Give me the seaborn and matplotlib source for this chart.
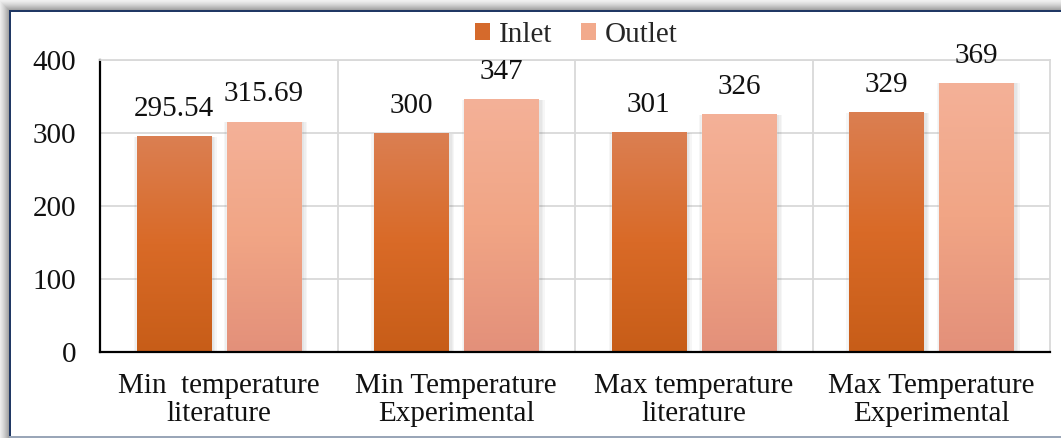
import numpy as np
import pandas as pd
import matplotlib
matplotlib.use("Agg")
import matplotlib.pyplot as plt
import matplotlib.patheffects as pe
from matplotlib.colors import LinearSegmentedColormap
from matplotlib.patches import Patch
import seaborn as sns

# ---- data ----
categories = [
    "Min  temperature\nliterature",
    "Min Temperature\nExperimental",
    "Max temperature\nliterature",
    "Max Temperature\nExperimental",
]
series = ["Inlet", "Outlet"]
inlet = [295.54, 300, 301, 329]
outlet = [315.69, 347, 326, 369]
yticks = [0, 100, 200, 300, 400]

df = pd.DataFrame({
    "category": categories * 2,
    "series": [series[0]] * len(inlet) + [series[1]] * len(outlet),
    "value": inlet + outlet,
})

# ---- style ----
sns.set_theme(style="white")
plt.rcParams["font.family"] = ["Liberation Serif", "DejaVu Serif"]
FS = 21

W, H = 1061, 438
fig = plt.figure(figsize=(W / 100, H / 100), dpi=100)

# page background: white card with a soft grey drop shadow and a navy edge
bgarr = np.ones((H, W, 3))
yy, xx = np.mgrid[0:H, 0:W]
d = np.maximum(9 - xx, 10 - yy).astype(float)
outside = d > 0
shade = 0.94 - (0.94 - 0.64) * (1 - np.clip((d - 1) / 9.0, 0, 1)) ** 1.3
for c in range(3):
    bgarr[..., c] = np.where(outside, shade, 1.0)
navy = np.array([0x20, 0x38, 0x64]) / 255
bgarr[10:12, 9:, :] = navy
bgarr[10:, 9:11, :] = navy
bgarr[436:438, 9:, :] = np.array([0x9A, 0xA6, 0xB8]) / 255
bg = fig.add_axes([0, 0, 1, 1], zorder=-10)
bg.imshow(bgarr, aspect="auto", interpolation="nearest")
bg.axis("off")

ax = fig.add_axes([100 / W, 86 / H, 950 / W, 292 / H])
ax.set_facecolor("white")

base_colors = ["#D56A2C", "#F0A98C"]
sns.barplot(data=df, x="category", y="value", hue="series", palette=base_colors,
            width=0.76, gap=0.18, saturation=1, legend=False, ax=ax, zorder=2)

grads = [
    LinearSegmentedColormap.from_list("inlet", ["#C75D18", "#D96A27", "#DB7F52"]),
    LinearSegmentedColormap.from_list("outlet", ["#E3907A", "#F1A585", "#F4B198"]),
]
gradient = np.linspace(0, 1, 256).reshape(-1, 1)

shadow = [pe.SimplePatchShadow(offset=(dx, -0.6), shadow_rgbFace="k", alpha=0.035)
          for dx in (-2, -1, 0.5, 1.5, 2.5, 3.5, 4.5)] + [pe.Normal()]

for container, cmap in zip(ax.containers, grads):
    for bar in container:
        x0, w, h = bar.get_x(), bar.get_width(), bar.get_height()
        bar.set_path_effects(shadow)
        im = ax.imshow(gradient, cmap=cmap, origin="lower", aspect="auto",
                       extent=[x0, x0 + w, 0, h], zorder=2.5, interpolation="bilinear")
        im.set_clip_path(bar)
        ax.annotate(f"{h:g}", (x0 + w / 2, h), xytext=(0, 19.5),
                    textcoords="offset points", ha="center", va="center",
                    fontsize=FS, color="#111111", zorder=4)

ax.set_xlim(-0.5, 3.5)
ax.set_ylim(0, 400)
ax.set_yticks(yticks)
ax.set_xlabel("")
ax.set_ylabel("")

ax.set_axisbelow(True)
ax.yaxis.grid(True, color="#D9D9D9", lw=1.3)
ax.set_xticks([0.5, 1.5, 2.5], minor=True)
ax.xaxis.grid(True, which="minor", color="#D9D9D9", lw=1.3)
ax.xaxis.grid(False, which="major")

for side in ("left", "bottom"):
    ax.spines[side].set_color("black")
    ax.spines[side].set_linewidth(1.6)
for side in ("top", "right"):
    ax.spines[side].set_color("#D9D9D9")
    ax.spines[side].set_linewidth(1.3)

ax.tick_params(axis="both", which="both", length=0, labelsize=FS, colors="#111111")
ax.tick_params(axis="y", pad=17)
ax.tick_params(axis="x", pad=15)
for lab in ax.get_xticklabels():
    lab.set_linespacing(1.1)

handles = [Patch(facecolor=c, edgecolor="none") for c in ["#D56A2C", "#F2AA8C"]]
fig.legend(handles, series, loc="center", bbox_to_anchor=(0.543, 0.92), ncol=2,
           frameon=False, fontsize=FS, handlelength=0.5, handleheight=0.5,
           handletextpad=0.3, columnspacing=1.0, borderpad=0)

fig.savefig("out.png", dpi=100)
